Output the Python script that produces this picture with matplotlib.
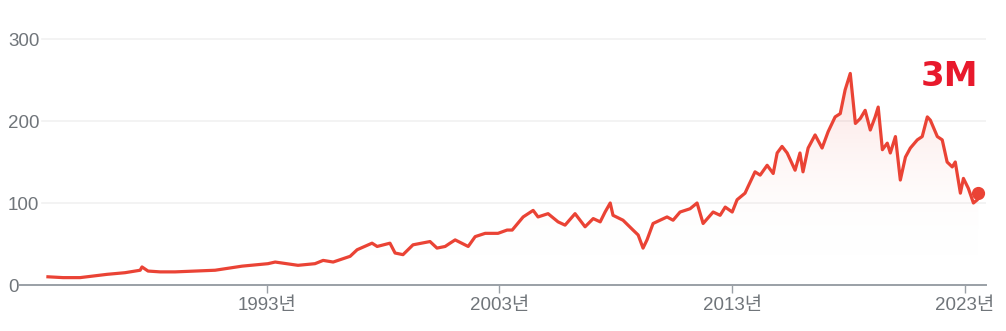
import matplotlib
matplotlib.use("Agg")
import matplotlib.pyplot as plt
import numpy as np
from matplotlib.colors import LinearSegmentedColormap

# 3M share price (decimal year, USD)
years = [1983.61, 1984.26, 1984.99, 1986.15, 1986.92, 1987.57, 1987.65, 1987.91, 1988.43,
         1989.07, 1989.93, 1990.79, 1991.95, 1993.06, 1993.37, 1994.35, 1995.08, 1995.43,
         1995.86, 1996.59, 1996.89, 1997.53, 1997.75, 1998.30, 1998.52, 1998.86, 1999.29,
         2000.02, 2000.32, 2000.67, 2000.88, 2001.10, 2001.66, 2001.96, 2002.39, 2002.94,
         2003.33, 2003.55, 2004.02, 2004.45, 2004.66, 2005.09, 2005.52, 2005.82, 2006.25,
         2006.68, 2007.03, 2007.33, 2007.54, 2007.76, 2007.88, 2008.31, 2008.74, 2008.96,
         2009.17, 2009.34, 2009.60, 2010.20, 2010.46, 2010.76, 2011.19, 2011.49, 2011.75,
         2012.18, 2012.48, 2012.70, 2013.00, 2013.21, 2013.55, 2013.68, 2013.98, 2014.20,
         2014.50, 2014.76, 2014.93, 2015.14, 2015.36, 2015.70, 2015.91, 2016.04, 2016.26,
         2016.56, 2016.86, 2017.12, 2017.42, 2017.64, 2017.85, 2018.07, 2018.20, 2018.29,
         2018.50, 2018.71, 2018.93, 2019.14, 2019.27, 2019.45, 2019.66, 2019.79, 2020.01,
         2020.22, 2020.44, 2020.65, 2020.95, 2021.16, 2021.38, 2021.51, 2021.81, 2022.02,
         2022.23, 2022.45, 2022.58, 2022.80, 2022.93, 2023.14, 2023.36, 2023.53, 2023.56]
prices = [10, 9, 9, 13, 15, 18, 22, 17, 16,
          16, 17, 18, 23, 26, 28, 24, 26, 30,
          28, 35, 43, 51, 47, 51, 39, 37, 49,
          53, 45, 47, 51, 55, 47, 59, 63, 63,
          67, 67, 83, 91, 83, 87, 77, 73, 87,
          71, 81, 77, 89, 100, 85, 79, 67, 61,
          45, 55, 75, 83, 79, 89, 93, 100, 75,
          89, 85, 95, 89, 104, 112, 120, 138, 134,
          146, 136, 161, 169, 161, 140, 161, 138, 167,
          183, 167, 187, 205, 209, 238, 258, 222, 197,
          203, 213, 189, 205, 217, 165, 173, 161, 181,
          128, 156, 167, 177, 181, 205, 201, 181, 177,
          150, 144, 150, 112, 130, 118, 100, 104, 112]

yticks = [0, 100, 200, 300]
xticks = [1993, 2003, 2013, 2023]
xlabels = [f"{y}년" for y in xticks]

RED = "#ea4335"
GREY = "#70757a"
XMIN, XMAX = 1982.41, 2023.90
YMAX = 340

fig = plt.figure(figsize=(10.06, 3.31), dpi=100)
ax = fig.add_axes([20 / 1006, 46 / 331, 966 / 1006, 278.8 / 331])
ax.set_xlim(XMIN, XMAX)
ax.set_ylim(0, YMAX)

# gradient fill under the line
cmap = LinearSegmentedColormap.from_list("g", [(1, 1, 1, 0), (0.918, 0.263, 0.208, 0.17)])
grad = np.linspace(0, 1, 256).reshape(-1, 1)
grad = np.clip((grad * YMAX - 30) / 230, 0, 1)
im = ax.imshow(grad, extent=[XMIN, XMAX, 0, YMAX], origin="lower", aspect="auto",
               cmap=cmap, vmin=0, vmax=1, zorder=1)
poly = ax.fill_between(years, prices, 0, color="none", lw=0)
im.set_clip_path(poly.get_paths()[0], transform=ax.transData)

# grid lines start after the labels
for v in yticks[1:]:
    ax.axhline(v, xmin=22 / 966, xmax=1, color="#f1f1f1", lw=1.2, zorder=0)

ax.plot(years, prices, color=RED, lw=2.3, zorder=3, solid_joinstyle="round")
ax.plot(years[-1], prices[-1], "o", color=RED, ms=8.5, zorder=4)

for s in ["top", "right", "left"]:
    ax.spines[s].set_visible(False)
ax.spines["bottom"].set_color("#9aa0a6")
ax.spines["bottom"].set_linewidth(1.4)

ax.set_yticks(yticks)
ax.set_yticklabels([str(v) for v in yticks], family="Liberation Sans", fontsize=13.5, color=GREY)
ax.tick_params(axis="y", length=0, pad=8.6)
for t in ax.get_yticklabels():
    t.set_horizontalalignment("left")

ax.set_xticks(xticks)
ax.set_xticklabels(xlabels, family=["Liberation Sans", "Noto Sans CJK KR"], fontsize=13.5, color=GREY)
ax.tick_params(axis="x", length=6, width=1, color="#9aa0a6", pad=2.5)

fig.text(978 / 1006, 1 - 76.5 / 331, "3M", color="#e8192c", fontsize=24.5, fontweight="bold",
         family="DejaVu Sans", ha="right", va="center")

fig.savefig("out.png", dpi=100)
